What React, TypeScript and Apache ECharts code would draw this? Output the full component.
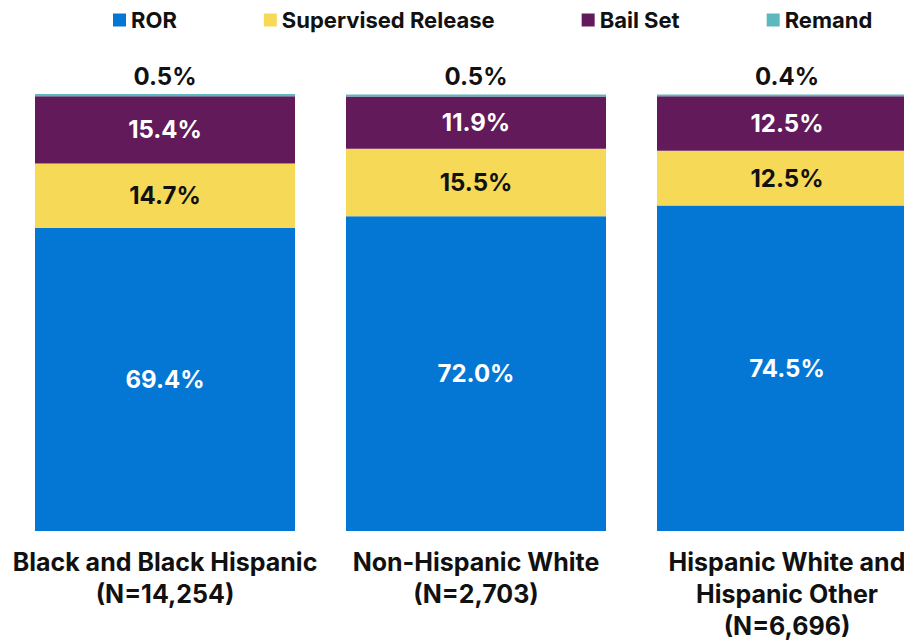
import React, { useEffect, useRef } from "react";
import * as echarts from "echarts";

const categories = [
  "Black and Black Hispanic\n(N=14,254)",
  "Non-Hispanic White\n(N=2,703)",
  "Hispanic White and\nHispanic Other\n(N=6,696)",
];
const seriesNames = ["ROR", "Supervised Release", "Bail Set", "Remand"];
const rorValues = [69.4, 72.0, 74.5];
const supervisedValues = [14.7, 15.5, 12.5];
const bailValues = [15.4, 11.9, 12.5];
const remandValues = [0.5, 0.5, 0.4];

const colors = ["#0477d4", "#f5d957", "#621a5b", "#5cb8bd"];
const labelColors = ["#ffffff", "#111111", "#ffffff", "#111111"];
const FONT = "Inter, Roboto, sans-serif";

export default function App() {
  const ref = useRef<HTMLDivElement>(null);
  useEffect(() => {
    if (!ref.current) return;
    const chart = echarts.init(ref.current, undefined, { renderer: "svg" });
    const values = [rorValues, supervisedValues, bailValues, remandValues];
    chart.setOption({
      animation: false,
      textStyle: { fontFamily: FONT },
      legend: {
        left: 108,
        top: 4,
        itemWidth: 13,
        itemHeight: 13,
        itemGap: 87,
        icon: "rect",
        textStyle: {
          fontFamily: FONT,
          fontSize: 22,
          fontWeight: "bold",
          color: "#111111",
        },
        data: seriesNames,
      },
      grid: { left: 9.5, width: 933, top: 94, bottom: 110, containLabel: false, outerBoundsMode: "none" },
      xAxis: {
        type: "category",
        data: categories,
        axisLine: { show: false },
        axisTick: { show: false },
        axisLabel: {
          margin: 15,
          fontFamily: FONT,
          fontSize: 25,
          fontWeight: "bold",
          color: "#111111",
          lineHeight: 32,
          interval: 0,
          hideOverlap: false,
        },
      },
      yAxis: { type: "value", min: 0, max: 100, show: false, splitLine: { show: false } },
      series: seriesNames.map((name, i) => ({
        name,
        type: "bar",
        stack: "total",
        barWidth: 260,
        data: values[i],
        itemStyle: { color: colors[i] },
        label: {
          show: true,
          position: i === 3 ? "top" : "inside",
          distance: 6,
          formatter: (p: any) => p.value.toFixed(1) + "%",
          fontFamily: FONT,
          fontSize: 24,
          fontWeight: "bold",
          color: labelColors[i],
        },
      })),
    });
    return () => chart.dispose();
  }, []);
  return (
    <div
      ref={ref}
      style={{ position: "fixed", left: 0, top: 0, width: 904, height: 641, background: "#fff" }}
    />
  );
}
